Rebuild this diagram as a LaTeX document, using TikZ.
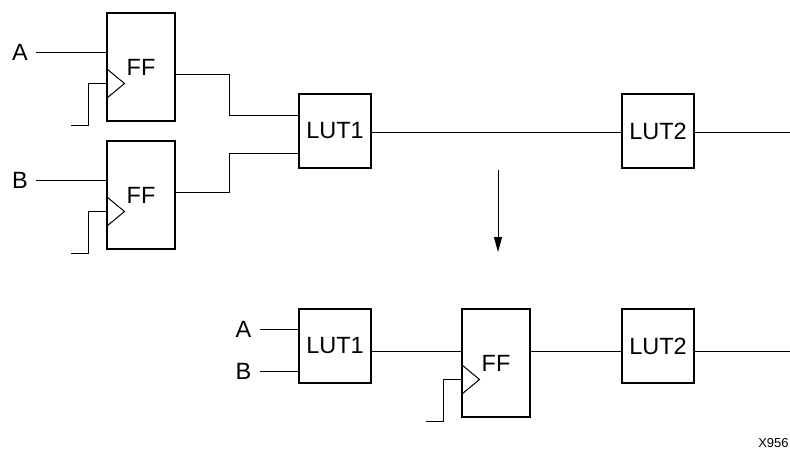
\documentclass[tikz,border=0pt]{standalone}
\usepackage{fontspec}
\setmainfont{Liberation Sans}
\usetikzlibrary{arrows.meta,positioning}

\begin{document}
\begin{tikzpicture}[x=1pt,y=-1pt,>={Triangle[length=15pt,width=8pt]}]
        \tikzstyle{ff}=[draw,line width=2pt,outer sep=0pt,minimum width=68pt,minimum height=108pt,font=\fontsize{23.5}{27}\selectfont]
        \tikzstyle{lut}=[draw,line width=2pt,outer sep=0pt,minimum width=72pt,minimum height=74pt,inner sep=0pt,font=\fontsize{23.5}{27}\selectfont]
        \tikzstyle{sig}=[inner sep=8.2pt,font=\fontsize{23.5}{27}\selectfont]
        \tikzstyle{wire}=[line width=1pt]
        \useasboundingbox (0,0) rectangle (790,450);

        % Before: registered inputs
        \node (ffA)[ff] at (141,67) {FF};
        \node (ffB)[ff] at (141,195) {FF};
        \node (lutA)[lut] at (335,131) {LUT1};
        \node (lutB)[lut] at (658,131) {LUT2};
        \node (inA)[sig] at (20,52) {A};
        \node (inB)[sig] at (20,180) {B};
        \coordinate (outA) at (790,132);

        \draw[wire] (inA.east) -- (inA.east -| ffA.west);
        \draw[wire] (inB.east) -- (inB.east -| ffB.west);
        \draw[wire] ([yshift=-7pt]ffA.east) -- ++(54,0) |- ([yshift=16pt]lutA.west);
        \draw[wire] ([yshift=3pt]ffB.east) -- ++(54,0) |- ([yshift=-22pt]lutA.west);
        \draw[wire] ([yshift=-1pt]lutA.east) -- ([yshift=-1pt]lutB.west);
        \draw[wire] ([yshift=-1pt]lutB.east) -- (outA);

        % Retiming arrow
        \coordinate (arrTop) at (498,170);
        \coordinate (arrBot) at (498,252);
        \draw[wire,->] (arrTop) -- (arrBot);

        % After: register moved forward
        \node (lutC)[lut] at (335,346) {LUT1};
        \node (ffC)[ff] at (496,363) {FF};
        \node (lutD)[lut] at (658,346) {LUT2};
        \node (inC)[sig,inner sep=8.6pt] at (243.5,329) {A};
        \node (inD)[sig,inner sep=8.6pt] at (243.5,371) {B};
        \coordinate (outB) at (790,351);

        \draw[wire] (inC.east) -- (inC.east -| lutC.west);
        \draw[wire] (inD.east) -- (inD.east -| lutC.west);
        \draw[wire] ([yshift=-5pt]lutC.east) -- ([yshift=12pt]ffC.west);
        \draw[wire] ([yshift=12pt]ffC.east) -- ([yshift=-5pt]lutD.west);
        \draw[wire] ([yshift=-5pt]lutD.east) -- (outB);

        % Clock pins
        \foreach \f in {ffA,ffB,ffC}{
            \draw[wire] ([yshift=-2pt]\f.west) -- ([xshift=17.5pt,yshift=-16.5pt]\f.west) -- ([yshift=-31pt]\f.west);
            \draw[wire] ([yshift=-16.5pt]\f.west) -- ++(-19,0) -- ++(0,42) -- ++(-17,0);
        }

        \node (fig)[font=\fontsize{13}{15}\selectfont] at (773.5,443) {X956};
\end{tikzpicture}
\end{document}
